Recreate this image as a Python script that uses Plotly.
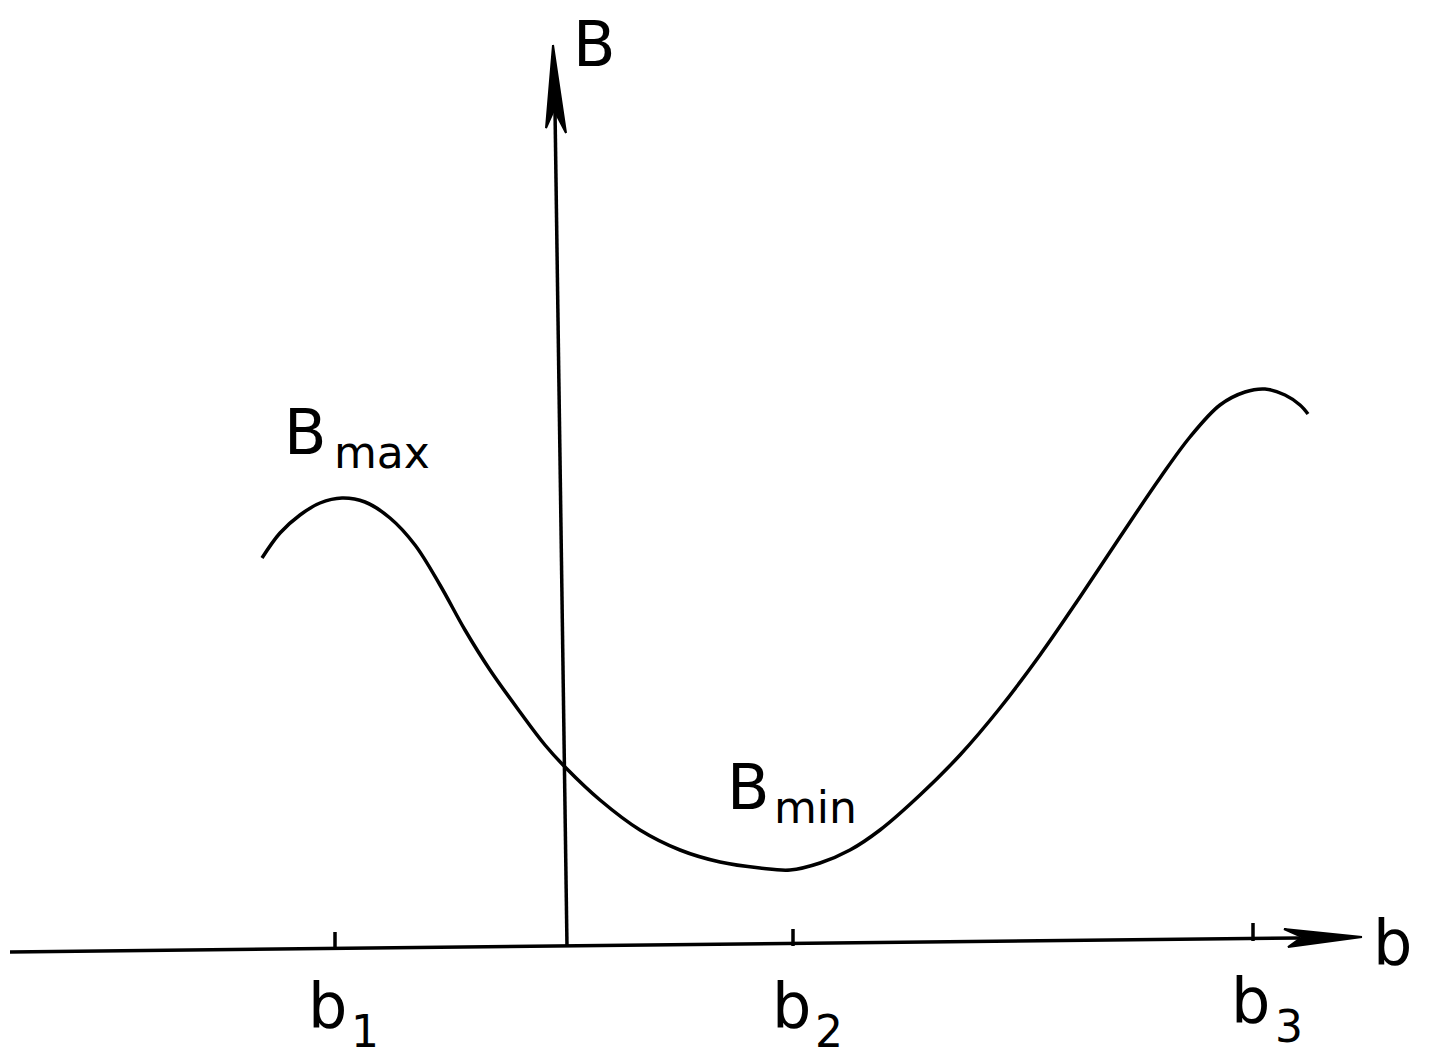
import plotly.graph_objects as go

# Curve B(b), in drawing coordinates (x right, y down)
curve_x = [262, 280, 300, 320, 342, 365, 390, 415, 440, 465, 490, 520, 545, 566, 600, 640, 680, 720, 760,
           790, 820, 850, 880, 920, 960, 1000, 1040, 1080, 1120, 1160, 1190, 1220, 1245, 1265, 1285, 1300, 1308]
curve_y = [558, 533, 515, 503, 498, 502, 518, 545, 585, 630, 670, 712, 745, 768, 800, 830, 850, 862, 868,
           870, 863, 850, 830, 795, 755, 708, 655, 597, 537, 478, 437, 405, 392, 389, 395, 405, 414]

# Axes
h_axis_x = [10, 1300]
h_axis_y = [952, 938]
v_axis_x = [567, 555]
v_axis_y = [947, 110]

# Arrow heads
h_head_x = [1362, 1284, 1302, 1288, 1362]
h_head_y = [937, 929, 937, 947, 937]
v_head_x = [553, 546, 554, 566, 553]
v_head_y = [45, 128, 110, 133, 45]

# Ticks
tick_x = [335, 793, 1253]
tick_y0 = [949, 946, 941]
tick_y1 = [932, 929, 923]
tick_base = ["b", "b", "b"]
tick_sub = ["1", "2", "3"]
label_x = [327, 791, 1250]
label_y = [1005, 1005, 1000]
sub_x = [365, 829, 1289]
sub_bottom = [1058, 1058, 1053]

fig = go.Figure()
line = dict(color="black", width=3.5)
fig.add_trace(go.Scatter(x=curve_x, y=curve_y, mode="lines", line=dict(color="black", width=3.5, shape="spline"), hoverinfo="skip"))
fig.add_trace(go.Scatter(x=h_axis_x, y=h_axis_y, mode="lines", line=line, hoverinfo="skip"))
fig.add_trace(go.Scatter(x=v_axis_x, y=v_axis_y, mode="lines", line=line, hoverinfo="skip"))
fig.add_trace(go.Scatter(x=h_head_x, y=h_head_y, mode="lines", fill="toself", fillcolor="black", line=dict(color="black", width=2), hoverinfo="skip"))
fig.add_trace(go.Scatter(x=v_head_x, y=v_head_y, mode="lines", fill="toself", fillcolor="black", line=dict(color="black", width=2), hoverinfo="skip"))
for tx, a, b in zip(tick_x, tick_y0, tick_y1):
    fig.add_trace(go.Scatter(x=[tx, tx], y=[a, b], mode="lines", line=dict(color="black", width=3.5), hoverinfo="skip"))

font_main = dict(family="DejaVu Sans", size=62, color="black")
font_sub = dict(family="DejaVu Sans", size=44, color="black")

annotations = []
for lx, ly, base, sub, sx, sb in zip(label_x, label_y, tick_base, tick_sub, sub_x, sub_bottom):
    annotations.append(dict(x=lx, y=ly, text=base, font=font_main, showarrow=False, xanchor="center", yanchor="middle", borderpad=0))
    annotations.append(dict(x=sx, y=sb, text=sub, font=font_sub, showarrow=False, xanchor="center", yanchor="bottom", borderpad=0))

annotations.append(dict(x=1392, y=942, text="b", font=font_main, showarrow=False, xanchor="center", yanchor="middle", borderpad=0))
annotations.append(dict(x=594, y=44, text="B", font=font_main, showarrow=False, xanchor="center", yanchor="middle", borderpad=0))
annotations.append(dict(x=305, y=432, text="B", font=font_main, showarrow=False, xanchor="center", yanchor="middle", borderpad=0))
annotations.append(dict(x=382, y=452, text="max", font=font_sub, showarrow=False, xanchor="center", yanchor="middle", borderpad=0))
annotations.append(dict(x=748, y=787, text="B", font=font_main, showarrow=False, xanchor="center", yanchor="middle", borderpad=0))
annotations.append(dict(x=815, y=807, text="min", font=font_sub, showarrow=False, xanchor="center", yanchor="middle", borderpad=0))

fig.update_layout(
    width=1429, height=1058,
    margin=dict(l=0, r=0, t=0, b=0),
    plot_bgcolor="white", paper_bgcolor="white",
    showlegend=False,
    annotations=annotations,
    xaxis=dict(range=[0, 1429], visible=False, fixedrange=True),
    yaxis=dict(range=[1058, 0], visible=False, fixedrange=True),
)
fig.write_html("out.html", config={"displayModeBar": False},
               post_script="document.body.style.margin='0px';document.body.style.overflow='hidden';")
